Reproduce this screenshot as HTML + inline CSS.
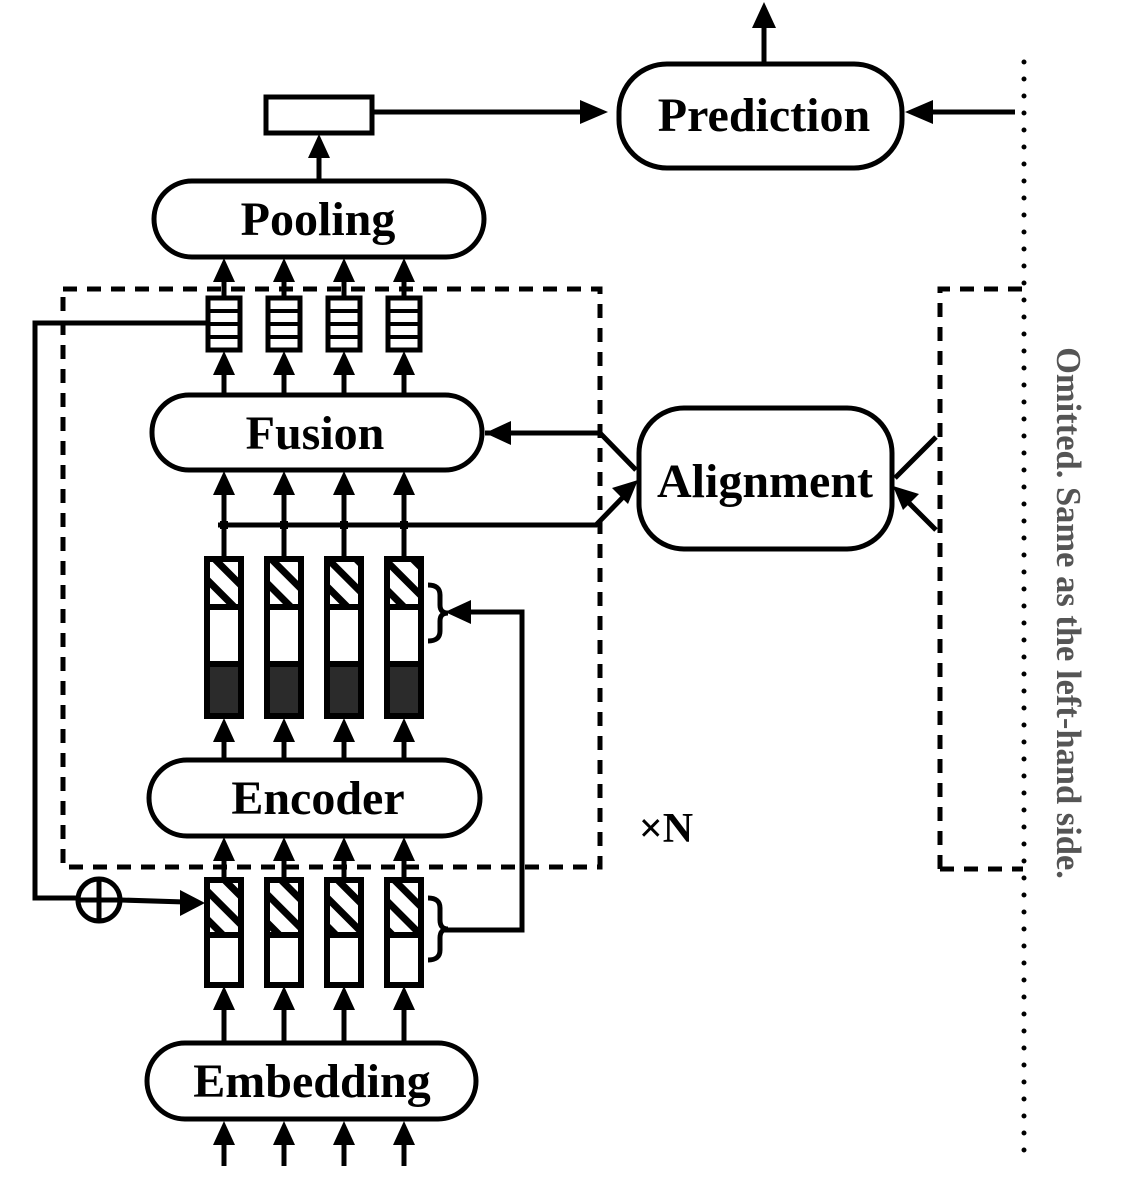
<!DOCTYPE html>
<html><head><meta charset="utf-8"><style>
html,body{margin:0;padding:0;background:#fff;}
svg{display:block;}
text{font-family:"Liberation Serif",serif;font-weight:bold;}
</style></head><body>
<svg width="1130" height="1188" viewBox="0 0 1130 1188" xmlns="http://www.w3.org/2000/svg">
<defs>
<pattern id="h" patternUnits="userSpaceOnUse" width="20" height="20" patternTransform="rotate(45)">
<rect width="20" height="20" fill="#fff"/>
<rect x="0" y="0" width="20" height="7" fill="#000"/>
</pattern>
</defs>
<g stroke="#000" stroke-width="5" fill="none">
<rect x="63" y="289" width="537" height="578" stroke-dasharray="14,10"/>
<polyline points="940,869 940,289 1023,289" stroke-dasharray="14,10"/>
<line x1="940" y1="869" x2="1023" y2="869" stroke-dasharray="14,10"/>
<rect x="147" y="1043" width="329" height="76" rx="38"/>
<rect x="149" y="760" width="331" height="76" rx="38"/>
<rect x="152" y="395" width="330" height="75" rx="37"/>
<rect x="154" y="181" width="330" height="76" rx="38"/>
<rect x="266" y="97" width="106" height="36"/>
<rect x="619" y="64" width="283" height="104" rx="48"/>
<rect x="639" y="408" width="253" height="141" rx="45"/>
<g>
<line x1="224" y1="297" x2="224" y2="270"/><line x1="284" y1="297" x2="284" y2="270"/><line x1="344" y1="297" x2="344" y2="270"/><line x1="404" y1="297" x2="404" y2="270"/>
<line x1="224" y1="395" x2="224" y2="362"/><line x1="284" y1="395" x2="284" y2="362"/><line x1="344" y1="395" x2="344" y2="362"/><line x1="404" y1="395" x2="404" y2="362"/>
<line x1="224" y1="557" x2="224" y2="482"/><line x1="284" y1="557" x2="284" y2="482"/><line x1="344" y1="557" x2="344" y2="482"/><line x1="404" y1="557" x2="404" y2="482"/>
<line x1="224" y1="760" x2="224" y2="729"/><line x1="284" y1="760" x2="284" y2="729"/><line x1="344" y1="760" x2="344" y2="729"/><line x1="404" y1="760" x2="404" y2="729"/>
<line x1="224" y1="878" x2="224" y2="848"/><line x1="284" y1="878" x2="284" y2="848"/><line x1="344" y1="878" x2="344" y2="848"/><line x1="404" y1="878" x2="404" y2="848"/>
<line x1="224" y1="1043" x2="224" y2="997"/><line x1="284" y1="1043" x2="284" y2="997"/><line x1="344" y1="1043" x2="344" y2="997"/><line x1="404" y1="1043" x2="404" y2="997"/>
<line x1="224" y1="1166" x2="224" y2="1132"/><line x1="284" y1="1166" x2="284" y2="1132"/><line x1="344" y1="1166" x2="344" y2="1132"/><line x1="404" y1="1166" x2="404" y2="1132"/>
<line x1="319" y1="181" x2="319" y2="145"/>
<line x1="764" y1="64" x2="764" y2="25"/>
</g>
<polyline points="218,525 596,525 628,492"/>
<polyline points="485,433 600,433 636,470"/>
<line x1="936" y1="437" x2="895" y2="478"/>
<line x1="936" y1="530" x2="906" y2="500"/>
<line x1="372" y1="112" x2="585" y2="112"/>
<line x1="1015" y1="112" x2="930" y2="112"/>
<polyline points="206,323 35,323 35,898 77,898"/>
<line x1="121" y1="900" x2="185" y2="902"/>
<circle cx="99" cy="900" r="21"/>
<line x1="99" y1="879" x2="99" y2="921"/><line x1="78" y1="900" x2="120" y2="900"/>
<polyline points="442,930 522,930 522,612 468,612"/>
<path d="M428,585 q12,0 12,10 v10 q0,8 8,8 q-8,0 -8,8 v10 q0,10 -12,10" stroke-width="5"/>
<path d="M428,898 q12,0 12,10 v12 q0,9 8,9 q-8,0 -8,9 v12 q0,10 -12,10" stroke-width="5"/>
</g>
<g fill="#000">
<rect x="220" y="521" width="8" height="8"/><rect x="280" y="521" width="8" height="8"/><rect x="340" y="521" width="8" height="8"/><rect x="400" y="521" width="8" height="8"/>
</g>
<g fill="#000">
<polygon points="224,258 213,282 235,282"/><polygon points="284,258 273,282 295,282"/><polygon points="344,258 333,282 355,282"/><polygon points="404,258 393,282 415,282"/>
<polygon points="224,351 213,375 235,375"/><polygon points="284,351 273,375 295,375"/><polygon points="344,351 333,375 355,375"/><polygon points="404,351 393,375 415,375"/>
<polygon points="224,471 213,495 235,495"/><polygon points="284,471 273,495 295,495"/><polygon points="344,471 333,495 355,495"/><polygon points="404,471 393,495 415,495"/>
<polygon points="224,718 213,742 235,742"/><polygon points="284,718 273,742 295,742"/><polygon points="344,718 333,742 355,742"/><polygon points="404,718 393,742 415,742"/>
<polygon points="224,837 213,861 235,861"/><polygon points="284,837 273,861 295,861"/><polygon points="344,837 333,861 355,861"/><polygon points="404,837 393,861 415,861"/>
<polygon points="224,986 213,1010 235,1010"/><polygon points="284,986 273,1010 295,1010"/><polygon points="344,986 333,1010 355,1010"/><polygon points="404,986 393,1010 415,1010"/>
<polygon points="224,1121 213,1145 235,1145"/><polygon points="284,1121 273,1145 295,1145"/><polygon points="344,1121 333,1145 355,1145"/><polygon points="404,1121 393,1145 415,1145"/>
<polygon points="319,134 308,158 330,158"/>
<polygon points="764,2 752,28 776,28"/>
<polygon points="608,112 580,100 580,124"/>
<polygon points="905,112 933,100 933,124"/>
<polygon points="485,433 511,421 511,445"/>
<polygon points="445,612 471,600 471,624"/>
<polygon points="205,903 180,890 180,916"/>
<polygon points="638,480 612,488 628,504"/>
<polygon points="893,486 919,494 903,510"/>
</g>
<g stroke="#000" stroke-width="5" fill="#fff">
<rect x="208" y="298" width="32" height="52"/><rect x="268" y="298" width="32" height="52"/><rect x="328" y="298" width="32" height="52"/><rect x="388" y="298" width="32" height="52"/>
</g>
<g stroke="#000" stroke-width="4">
<line x1="208" y1="311" x2="240" y2="311"/><line x1="208" y1="324" x2="240" y2="324"/><line x1="208" y1="337" x2="240" y2="337"/>
<line x1="268" y1="311" x2="300" y2="311"/><line x1="268" y1="324" x2="300" y2="324"/><line x1="268" y1="337" x2="300" y2="337"/>
<line x1="328" y1="311" x2="360" y2="311"/><line x1="328" y1="324" x2="360" y2="324"/><line x1="328" y1="337" x2="360" y2="337"/>
<line x1="388" y1="311" x2="420" y2="311"/><line x1="388" y1="324" x2="420" y2="324"/><line x1="388" y1="337" x2="420" y2="337"/>
</g>
<g stroke="#000" stroke-width="6">
<rect x="207" y="559" width="34" height="48" fill="url(#h)"/><rect x="207" y="607" width="34" height="57" fill="#fff"/><rect x="207" y="664" width="34" height="52" fill="#2b2b2b"/>
<rect x="267" y="559" width="34" height="48" fill="url(#h)"/><rect x="267" y="607" width="34" height="57" fill="#fff"/><rect x="267" y="664" width="34" height="52" fill="#2b2b2b"/>
<rect x="327" y="559" width="34" height="48" fill="url(#h)"/><rect x="327" y="607" width="34" height="57" fill="#fff"/><rect x="327" y="664" width="34" height="52" fill="#2b2b2b"/>
<rect x="387" y="559" width="34" height="48" fill="url(#h)"/><rect x="387" y="607" width="34" height="57" fill="#fff"/><rect x="387" y="664" width="34" height="52" fill="#2b2b2b"/>
<rect x="207" y="880" width="34" height="55" fill="url(#h)"/><rect x="207" y="935" width="34" height="50" fill="#fff"/>
<rect x="267" y="880" width="34" height="55" fill="url(#h)"/><rect x="267" y="935" width="34" height="50" fill="#fff"/>
<rect x="327" y="880" width="34" height="55" fill="url(#h)"/><rect x="327" y="935" width="34" height="50" fill="#fff"/>
<rect x="387" y="880" width="34" height="55" fill="url(#h)"/><rect x="387" y="935" width="34" height="50" fill="#fff"/>
</g>
<line x1="1024" y1="62" x2="1024" y2="1166" stroke="#000" stroke-width="5" stroke-linecap="round" stroke-dasharray="0,17"/>
<g font-size="48" text-anchor="middle" fill="#000">
<text x="312" y="1097">Embedding</text>
<text x="318" y="814">Encoder</text>
<text x="315" y="449">Fusion</text>
<text x="318" y="235">Pooling</text>
<text x="764" y="131">Prediction</text>
<text x="765" y="497">Alignment</text>
</g>
<text x="666" y="842" font-size="42" text-anchor="middle">×N</text>
<text transform="translate(1057,613) rotate(90)" font-size="34.5" text-anchor="middle" fill="#555">Omitted. Same as the left-hand side.</text>
</svg>
</body></html>
